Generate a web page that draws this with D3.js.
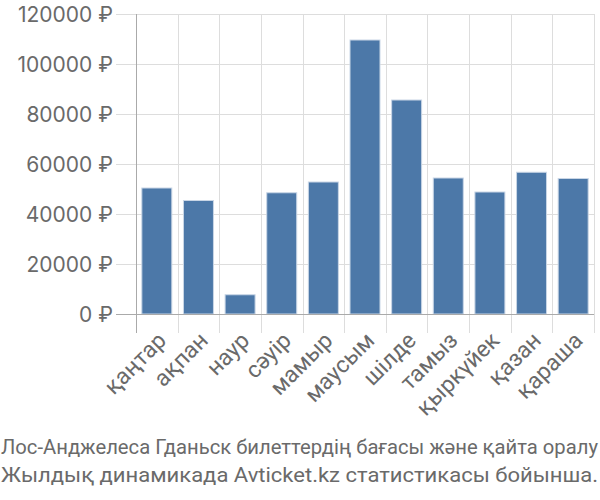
<!DOCTYPE html>
<html><head><meta charset="utf-8">
<script src="https://cdn.jsdelivr.net/npm/d3@7"></script>
<style>body{margin:0;background:#fff}svg{display:block}</style>
</head><body>
<svg id="c" width="600" height="500"></svg>
<script>
const months = ["қаңтар","ақпан","наур","сәуір","мамыр","маусым","шілде","тамыз","қыркүйек","қазан","қараша"];
const prices = [50400, 45400, 7700, 48500, 52800, 109600, 85600, 54400, 48800, 56700, 54200];
const yTicks = [0, 20000, 40000, 60000, 80000, 100000, 120000];
const titleLines = ["Лос-Анджелеса Гданьск билеттердің бағасы және қайта оралу","Жылдық динамикада Avticket.kz статистикасы бойынша."];

const svg = d3.select("#c");
const L = 136, R = 594, T = 14, B = 314;
const x = d3.scaleBand().domain(months).range([L, R]).paddingInner(0.28).paddingOuter(0.14);
const xb = d3.scaleBand().domain(months).range([L, R]);
const y = d3.scaleLinear().domain([0, 120000]).range([B, T]);

const g = svg.append("g");
g.selectAll(".hg").data(yTicks).enter().append("line")
  .attr("x1", L - 20).attr("x2", R).attr("y1", d => y(d) + 0.5).attr("y2", d => y(d) + 0.5)
  .attr("stroke", "#ddd").attr("stroke-width", 1);
const vlines = months.map(m => xb(m)).concat([R]);
g.selectAll(".vg").data(vlines).enter().append("line")
  .attr("x1", d => Math.round(d) + 0.5).attr("x2", d => Math.round(d) + 0.5).attr("y1", T).attr("y2", B + 19)
  .attr("stroke", "#ddd").attr("stroke-width", 1);

svg.append("g").selectAll("rect").data(months).enter().append("rect")
  .attr("x", d => x(d)).attr("width", x.bandwidth())
  .attr("y", (d, i) => y(prices[i])).attr("height", (d, i) => y(0) - y(prices[i]))
  .attr("fill", "#4c78a8").attr("stroke", "#c9d6e6").attr("stroke-width", 1);

svg.append("line").attr("x1", L + 0.5).attr("x2", L + 0.5).attr("y1", T).attr("y2", B + 19)
  .attr("stroke", "#aaa").attr("stroke-width", 1);
svg.append("line").attr("x1", L - 20).attr("x2", R).attr("y1", B + 0.5).attr("y2", B + 0.5)
  .attr("stroke", "#aaa").attr("stroke-width", 1);

svg.append("g").selectAll("text").data(yTicks).enter().append("text")
  .attr("x", 113).attr("y", d => y(d)).attr("dy", "0.36em")
  .attr("text-anchor", "end").attr("font-family", "Inter, Roboto, sans-serif").attr("font-size", 21)
  .attr("fill", "#6a6a6a").text(d => d + " ₽");

svg.append("g").selectAll("text").data(months).enter().append("text")
  .attr("transform", d => `translate(${xb(d) + xb.bandwidth() / 2 + 5},${B + 22}) rotate(-45)`)
  .attr("text-anchor", "end").attr("dy", "0.36em")
  .attr("font-family", "Roboto, sans-serif").attr("font-size", 23).attr("fill", "#6a6a6a").text(d => d);

svg.append("g").selectAll("text").data(titleLines).enter().append("text")
  .attr("x", 1).attr("y", (d, i) => 454 + i * 28)
  .attr("font-family", "Roboto, sans-serif").attr("font-size", 20).attr("fill", "#6a6a6a")
  .attr("textLength", 597).attr("lengthAdjust", "spacingAndGlyphs")
  .text(d => d);
</script>
</body></html>
